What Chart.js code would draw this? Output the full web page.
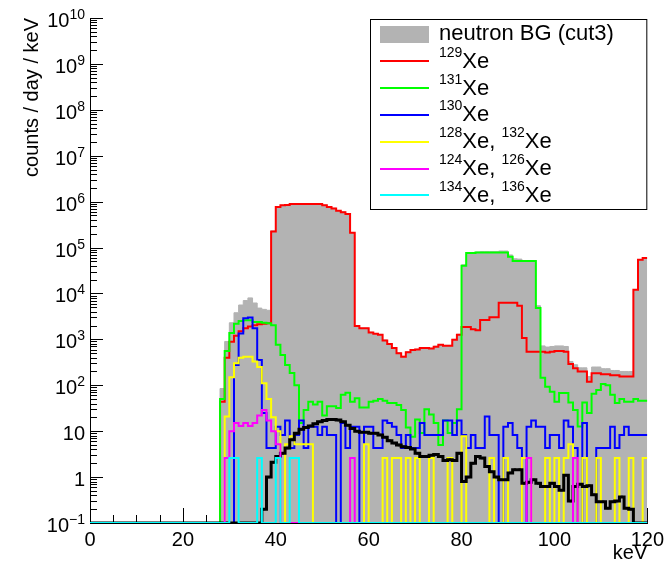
<!DOCTYPE html>
<html><head><meta charset="utf-8">
<script src="https://cdn.jsdelivr.net/npm/chart.js@4.4.1/dist/chart.umd.min.js"></script>
<style>html,body{margin:0;padding:0;background:#fff}#wrap{position:relative;width:669px;height:567px}</style>
</head><body><div id="wrap"><canvas id="c" width="669" height="567"></canvas></div>
<script>
// ---- data: 1 keV bins, low edges 0..119 (+ upper edge 120) ----
const binEdges = [0,1,2,3,4,5,6,7,8,9,10,11,12,13,14,15,16,17,18,19,20,21,22,23,24,25,26,27,28,29,30,31,32,33,34,35,36,37,38,39,40,41,42,43,44,45,46,47,48,49,50,51,52,53,54,55,56,57,58,59,60,61,62,63,64,65,66,67,68,69,70,71,72,73,74,75,76,77,78,79,80,81,82,83,84,85,86,87,88,89,90,91,92,93,94,95,96,97,98,99,100,101,102,103,104,105,106,107,108,109,110,111,112,113,114,115,116,117,118,119,120];

const neutronBG = [0,0,0,0,0,0,0,0,0,0, 0,0,0,0,0,0,0,0,0,0, 0,0,0,0,0,0,0,0,85,900,
 2300,3800,5600,7000,8000,6200,4800,4500,4300,2.3e5,
 7.6e5,8.4e5,8.6e5,9.0e5,9.0e5,9.0e5,9.0e5,9.0e5,9.0e5,9.0e5,
 8.4e5,7.7e5,7.2e5,6.4e5,6.0e5,5.5e5,2.1e5,1980,1760,1760,
 1430,1340,1280,970,810,660,510,430,540,600,
 610,660,660,640,710,770,740,740,1000,1290,
 4.2e4,7.8e4,7.8e4,8.0e4,8.1e4,8.1e4,8.1e4,8.1e4,8.4e4,8.4e4,
 6.9e4,5.7e4,5.6e4,5.2e4,5.2e4,5.2e4,5400,720,680,700,
 720,720,700,330,280,240,240,155,250,250,
 230,230,210,210,200,200,200,1.2e4,5.4e4,5.9e4];

const xe129 = [0,0,0,0,0,0,0,0,0,0, 0,0,0,0,0,0,0,0,0,0, 0,0,0,0,0,0,0,0,44,400,
 890,1200,1500,1740,1900,2040,2140,2190,2240,2.24e5,
 7.6e5,8.3e5,8.5e5,8.9e5,8.9e5,8.9e5,8.9e5,8.9e5,8.9e5,8.9e5,
 8.3e5,7.6e5,7.1e5,6.3e5,5.9e5,5.4e5,2.1e5,1950,1740,1740,
 1410,1320,1260,950,790,645,500,420,525,590,
 600,645,645,630,690,760,725,725,980,1260,
 1860,1860,1660,1580,2630,2630,3020,3020,6300,6300,
 6300,6300,5400,1070,540,540,540,540,520,540,
 560,560,540,290,235,200,200,120,182,182,
 174,174,166,166,155,155,155,1.2e4,5.4e4,5.9e4];

const xe131 = [0,0,0,0,0,0,0,0,0,0, 0,0,0,0,0,0,0,0,0,0, 0,0,0,0,0,0,0,0,50,560,
 1380,2200,2500,2600,2600,2400,2400,2300,2240,2040,
 760,457,275,186,100,15,29,44,38,44,
 22,35,35,32,62,69,44,52,33,33,
 44,46,50,46,41,41,37,29,12,7.6,
 18,9.1,30,23,15,5,17,9.1,15,30,
 4.0e4,7.6e4,7.6e4,7.8e4,7.8e4,7.8e4,7.8e4,7.8e4,7.8e4,7.8e4,
 6.3e4,5.1e4,5.1e4,5.1e4,5.1e4,5.1e4,4800,145,93,72,
 44,68,68,42,29,12.6,42,25,65,79,
 107,100,62,41,50,44,44,50,46,46];

const xe130 = [0,0,0,0,0,0,0,0,0,0, 0,0,0,0,0,0,0,0,0,0, 0,0,0,0,0,0,0,0,0,0,
 0,275,1350,2900,3000,1740,355,25,4.3,4.3,
 12.5,8.3,17,4.3,8.3,17,4.3,12.5,12.5,8.3,
 12.5,8.3,8.3,0,15,4.3,12.5,12.5,0,12.5,
 12.5,4.3,4.3,17,15,12.5,8.3,4.3,8.3,4.3,
 4.3,15,8.3,8.3,8.3,8.3,17,17,8.3,17,
 8.3,4.3,8.3,4.3,4.3,21,8.3,8.3,0,12.5,
 15,8.3,4.3,0,12.5,17,12.5,12.5,4.3,8.3,
 8.3,4.3,17,12.5,4.3,0,15,0,0,4.3,
 4.3,4.3,12.5,4.3,8.3,12.5,8.3,8.3,8.3,8.3];

const xe128_132 = [0,0,0,0,0,0,0,0,0,0, 0,0,0,0,0,0,0,0,0,0, 0,0,0,0,0,0,0,0,0,21,
 150,300,400,420,420,330,250,110,50,20,
 10,0,5.2,7.8,5.2,5.2,5.2,5.2,0,0,
 0,0,0,0,0,0,0,0,0,5.2,
 0,0,0,2.6,0,2.6,2.6,0,2.6,0,
 2.6,0,0,2.6,0,0,0,2.6,0,0,
 7.8,0,0,0,0,0,2.6,0,0,2.6,
 0,0,0,2.6,2.6,0,0,0,2.6,0,
 2.6,0,2.6,5.2,2.6,0,2.6,0,0,2.6,
 0,0,0,2.6,0,0,2.6,0,0,2.6];

const xe124_126 = [0,0,0,0,0,0,0,0,0,0, 0,0,0,0,0,0,0,0,0,0, 0,0,0,0,0,0,0,0,0,2.6,
 10,15,13,15,13,15,22,29,17,10,
 5.2,0,0,0,0,0,0,0,0,0,
 0,0,0,0,0,0,2.6,0,0,0,
 0,0,0,0,0,0,0,0,0,0,
 0,0,0,0,0,0,0,0,0,0,
 0,0,0,0,0,0,0,0,0,0,
 0,0,0,0,2.6,0,0,0,0,0,
 0,0,0,0,2.6,0,0,0,0,0,
 0,0,0,0,0,0,0,0,0,0];

const xe134_136 = [0,0,0,0,0,0,0,0,0,0, 0,0,0,0,0,0,0,0,0,0, 0,0,0,0,0,0,0,0,0,0,
 2.6,2.6,0,0,0,0,2.6,0,0,0,
 2.6,0,0,2.6,2.6,0,0,0,0,0,
 0,0,0,0,0,0,0,0,0,0, 0,0,0,0,0,0,0,0,0,0, 0,0,0,0,0,0,0,0,0,0,
 0,0,0,0,0,0,0,0,0,0, 0,0,0,0,0,0,0,0,0,0, 0,0,0,0,0,0,0,0,0,0,
 0,0,0,0,0,0,0,0,0,0];

const blackHist = [0,0,0,0,0,0,0,0,0,0, 0,0,0,0,0,0,0,0,0,0, 0,0,0,0,0,0,0,0,0,0,
 0,0,0,0,0,0,0,0.2,1.0,2.1,
 2.8,3.3,4.3,6.5,9,11,12,13,14.5,16,
 17,18,18,17.5,16,13.5,11.5,10,9.5,9.5,
 9,9,8.3,7.4,6.2,5.5,5,4.6,4.4,4.1,
 3.3,2.8,2.8,3.0,3.1,2.8,2.3,2.4,2.3,3.3,
 0.8,1.0,2.0,2.8,2.6,1.7,1.3,1.0,0.87,0.87,
 1.23,1.45,1.45,0.73,0.77,0.87,0.73,0.62,0.62,0.73,
 0.62,0.52,1.1,0.3,0.62,0.7,0.62,0.65,0.41,0.29,
 0.29,0.21,0.29,0.3,0.37,0.21,0.2,0,0,0];

const xTickValues = [0,20,40,60,80,100,120];
const yTickValues = [0.1,1,10,1e2,1e3,1e4,1e5,1e6,1e7,1e8,1e9,1e10];
const yTickLabels = [['10','\u22121'],['1',''],['10',''],['10','2'],['10','3'],['10','4'],['10','5'],['10','6'],['10','7'],['10','8'],['10','9'],['10','10']];
const YMIN = 0.1, YMAX = 1e10;

const COLORS = {bg:'#b3b3b3', red:'#ff0000', green:'#00ff00', blue:'#0000ff', yellow:'#ffff00', magenta:'#ff00ff', cyan:'#00ffff', black:'#000000'};
const legendItems = [
  {kind:'box', color:COLORS.bg, parts:[['t','neutron BG (cut3)']]},
  {kind:'line', color:COLORS.red, parts:[['s','129'],['t','Xe']]},
  {kind:'line', color:COLORS.green, parts:[['s','131'],['t','Xe']]},
  {kind:'line', color:COLORS.blue, parts:[['s','130'],['t','Xe']]},
  {kind:'line', color:COLORS.yellow, parts:[['s','128'],['t','Xe, '],['s','132'],['t','Xe']]},
  {kind:'line', color:COLORS.magenta, parts:[['s','124'],['t','Xe, '],['s','126'],['t','Xe']]},
  {kind:'line', color:COLORS.cyan, parts:[['s','134'],['t','Xe, '],['s','136'],['t','Xe']]}
];

const FONT = "'Liberation Sans', Arial, Helvetica, sans-serif";

function histPoints(vals){
  const pts = vals.map((v,i)=>({x:binEdges[i], y: v>0 ? v : YMIN}));
  pts.push({x:binEdges[vals.length], y: pts[pts.length-1].y});
  return pts;
}
// 'before' in Chart.js = horizontal at the previous value, then vertical: each value spans [low edge, next edge]
function hist(vals, color, width, order, extra){
  return Object.assign({data:histPoints(vals), borderColor:color, borderWidth:width, stepped:'before',
    pointRadius:0, fill:false, order:order, borderJoinStyle:'miter', borderCapStyle:'butt', tension:0}, extra||{});
}
const blackDots = blackHist.map((v,i)=>({x:(binEdges[i]+binEdges[i+1])/2, y:v})).filter(p=>p.y>0);

const datasets = [
  hist(neutronBG, COLORS.bg, 1, 10, {fill:'start', backgroundColor:COLORS.bg}),
  hist(xe129, COLORS.red, 2, 9),
  hist(xe131, COLORS.green, 2, 8),
  hist(xe130, COLORS.blue, 2, 7),
  hist(xe128_132, COLORS.yellow, 2, 6),
  hist(blackHist, COLORS.black, 3, 5),
  {data:blackDots, showLine:false, pointRadius:1.6, pointStyle:'rect', backgroundColor:'#000', borderWidth:0, order:4.5},
  hist(xe124_126, COLORS.magenta, 2, 4),
  hist(xe134_136, COLORS.cyan, 2, 3)
];

const rootPlugin = {
  id:'rootStyle',
  beforeDatasetsDraw(chart){
    const {ctx, chartArea:a, scales:{x,y}} = chart;
    ctx.save();
    ctx.strokeStyle = '#000'; ctx.lineWidth = 1;
    ctx.beginPath();
    for (let d=-1; d<=10; d++){
      for (let m=1; m<10; m++){
        const v = m*Math.pow(10,d);
        if (v > YMAX*1.0001) break;
        const py = Math.round(y.getPixelForValue(v)) + 0.5;
        const len = (m===1) ? 13 : 7;
        ctx.moveTo(a.left, py); ctx.lineTo(a.left+len, py);
      }
    }
    for (let k=0; k<=120; k+=5){
      const px = Math.round(x.getPixelForValue(k)) + 0.5;
      const len = (k%20===0) ? 15 : 8;
      ctx.moveTo(px, a.bottom); ctx.lineTo(px, a.bottom-len);
    }
    ctx.stroke();
    ctx.fillStyle = '#000';
    const right = a.left - 5;
    yTickValues.forEach((v,i)=>{
      const py = y.getPixelForValue(v);
      const [b,e] = yTickLabels[i];
      let xr = right;
      if (e){
        ctx.font = '14px ' + FONT; ctx.textAlign='right'; ctx.textBaseline='alphabetic';
        ctx.fillText(e, xr, py + 1);
        xr -= ctx.measureText(e).width;
      }
      ctx.font = '20px ' + FONT; ctx.textAlign='right'; ctx.textBaseline='alphabetic';
      ctx.fillText(b, xr, py + 9);
    });
    ctx.restore();
  },
  afterDraw(chart){
    const {ctx, chartArea:a} = chart;
    ctx.save();
    ctx.strokeStyle = '#000'; ctx.lineWidth = 1;
    const lx = 370, ly = 19, lw = a.right - 370, lh = 190;
    ctx.fillStyle = '#fff';
    ctx.fillRect(lx, ly, lw, lh);
    ctx.strokeRect(lx+0.5, ly+0.5, lw-1, lh);
    const rowH = 26.8, y0 = 34.5;
    legendItems.forEach((it, i)=>{
      const cy = y0 + i*rowH;
      if (it.kind==='box'){
        ctx.fillStyle = it.color; ctx.fillRect(380, cy-8.5, 49, 17);
      } else {
        ctx.strokeStyle = it.color; ctx.lineWidth = 2;
        ctx.beginPath(); ctx.moveTo(380, Math.round(cy)); ctx.lineTo(429, Math.round(cy)); ctx.stroke();
      }
      let tx = 439;
      const base = cy + (it.kind==='box' ? 5 : 6.5);
      ctx.fillStyle = '#000'; ctx.textAlign='left'; ctx.textBaseline='alphabetic';
      it.parts.forEach(([k,s])=>{
        if (k==='s'){ ctx.font = '14px ' + FONT; ctx.fillText(s, tx, base - 11); }
        else { ctx.font = '22px ' + FONT; ctx.fillText(s, tx, base); }
        tx += ctx.measureText(s).width;
      });
    });
    ctx.restore();
  }
};

new Chart(document.getElementById('c').getContext('2d'), {
  type:'line',
  data:{datasets},
  options:{
    responsive:false, animation:false, devicePixelRatio:1,
    layout:{padding:{left:0, right:19, top:18, bottom:0}},
    plugins:{legend:{display:false}, tooltip:{enabled:false}},
    elements:{point:{radius:0}},
    scales:{
      x:{type:'linear', min:0, max:120,
        grid:{display:false, drawTicks:false}, border:{display:true, color:'#000', width:1},
        ticks:{font:{family:FONT, size:20}, color:'#000', padding:5, maxRotation:0, autoSkip:false},
        afterBuildTicks(s){ s.ticks = xTickValues.map(v=>({value:v})); },
        title:{display:true, text:'keV', align:'end', font:{family:FONT, size:20}, color:'#000', padding:2},
        afterFit(s){ s.height = 44; }
      },
      y:{type:'logarithmic', min:YMIN, max:YMAX,
        grid:{display:false, drawTicks:false}, border:{display:true, color:'#000', width:1},
        ticks:{display:false},
        afterBuildTicks(s){ s.ticks = yTickValues.map(v=>({value:v})); },
        title:{display:true, text:'counts / day / keV', align:'end', font:{family:FONT, size:20}, color:'#000', padding:{top:20, bottom:0}},
        afterFit(s){ s.width = 90; }
      }
    }
  },
  plugins:[rootPlugin]
});
</script></body></html>
